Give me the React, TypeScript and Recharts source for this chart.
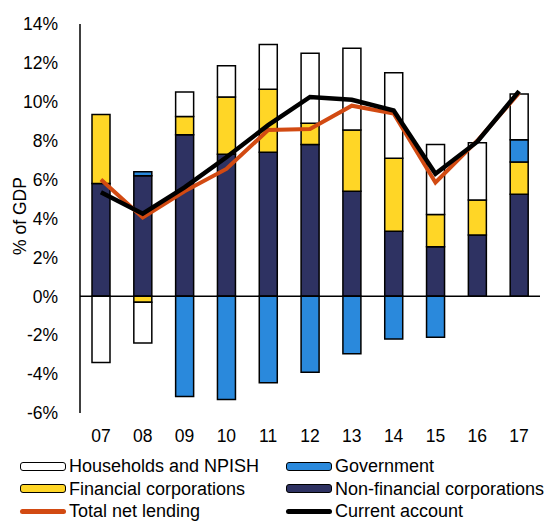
import {
  Bar,
  ComposedChart,
  Label,
  Legend,
  Line,
  ReferenceLine,
  XAxis,
  YAxis,
} from 'recharts'

const years = ['07', '08', '09', '10', '11', '12', '13', '14', '15', '16', '17']
const nonFinancial = [5.8, 6.2, 8.3, 7.3, 7.4, 7.8, 5.4, 3.35, 2.55, 3.15, 5.25]
const financial = [3.55, -0.3, 0.95, 2.95, 3.25, 1.1, 3.15, 3.75, 1.65, 1.8, 1.65]
const government = [0, 0.2, -5.15, -5.3, -4.45, -3.9, -2.95, -2.2, -2.1, 0, 1.15]
const households = [-3.4, -2.1, 1.25, 1.6, 2.3, 3.6, 4.2, 4.4, 3.6, 2.95, 2.35]
const totalNetLending = [6.0, 4.05, 5.4, 6.55, 8.55, 8.6, 9.8, 9.4, 5.85, 8.0, 10.45]
const currentAccount = [5.35, 4.25, 5.6, 7.15, 8.8, 10.25, 10.1, 9.55, 6.3, 7.95, 10.55]
const yTicks = [-6, -4, -2, 0, 2, 4, 6, 8, 10, 12, 14]

const data = years.map((year, i) => ({
  year,
  nonFinancial: nonFinancial[i],
  financial: financial[i],
  government: government[i],
  households: households[i],
  totalNetLending: totalNetLending[i],
  currentAccount: currentAccount[i],
}))

const font = '"Liberation Sans", Arial, sans-serif'

const legendItems = [
  { name: 'Households and NPISH', color: '#ffffff', kind: 'box' },
  { name: 'Government', color: '#2a89dc', kind: 'box' },
  { name: 'Financial corporations', color: '#ffd626', kind: 'box' },
  { name: 'Non-financial corporations', color: '#2e3262', kind: 'box' },
  { name: 'Total net lending', color: '#d24a12', kind: 'line' },
  { name: 'Current account', color: '#000000', kind: 'line' },
]

function ChartLegend() {
  return (
    <div
      style={{
        display: 'grid',
        gridTemplateColumns: '266px 263px',
        fontFamily: font,
        fontSize: 18,
        color: '#000',
        lineHeight: '22.5px',
        whiteSpace: 'nowrap',
      }}
    >
      {legendItems.map((item) => (
        <div key={item.name} style={{ display: 'flex', alignItems: 'center', height: 22.5 }}>
          {item.kind === 'box' ? (
            <span
              style={{
                display: 'inline-block',
                boxSizing: 'border-box',
                width: 46,
                height: 9,
                background: item.color,
                border: '1.5px solid #000',
                borderRadius: 3,
                marginRight: 3,
              }}
            />
          ) : (
            <span
              style={{
                display: 'inline-block',
                width: 46,
                height: 4.5,
                background: item.color,
                borderRadius: 2.5,
                marginRight: 3,
              }}
            />
          )}
          <span>{item.name}</span>
        </div>
      ))}
    </div>
  )
}

export default function App() {
  return (
    <div style={{ position: 'absolute', left: 0, top: 0, background: '#fff' }}>
      <ComposedChart
        width={549}
        height={521}
        data={data}
        stackOffset='sign'
        barSize={18}
        margin={{ top: 24, right: 9, bottom: 0, left: 10 }}
      >
        <XAxis
          dataKey='year'
          axisLine={false}
          tickLine={false}
          height={30}
          tick={{ fill: '#000', fontSize: 17.5, fontFamily: font }}
          tickMargin={11}
        />
        <YAxis
          width={70}
          domain={[-6, 14]}
          ticks={yTicks}
          interval={0}
          allowDataOverflow
          tickFormatter={(v) => `${v}%`}
          axisLine={{ stroke: '#000', strokeWidth: 1.5 }}
          tickLine={false}
          tick={{ fill: '#000', fontSize: 17.5, fontFamily: font }}
          tickMargin={16}
        >
          <Label
            content={() => (
              <text
                x={20}
                y={216}
                transform='rotate(-90 20 216)'
                textAnchor='middle'
                dominantBaseline='central'
                style={{ fill: '#000', fontSize: 17.5, fontFamily: font }}
              >
                % of GDP
              </text>
            )}
          />
        </YAxis>
        <Legend
          verticalAlign='bottom'
          wrapperStyle={{ left: 20, top: 455, width: 529 }}
          content={() => <ChartLegend />}
          height={78}
        />
        <Bar dataKey='nonFinancial' name='Non-financial corporations' stackId='a' fill='#2e3262' stroke='#000' strokeWidth={1.5} isAnimationActive={false} />
        <Bar dataKey='financial' name='Financial corporations' stackId='a' fill='#ffd626' stroke='#000' strokeWidth={1.5} isAnimationActive={false} />
        <Bar dataKey='government' name='Government' stackId='a' fill='#2a89dc' stroke='#000' strokeWidth={1.5} isAnimationActive={false} />
        <Bar dataKey='households' name='Households and NPISH' stackId='a' fill='#ffffff' stroke='#000' strokeWidth={1.5} isAnimationActive={false} />
        <ReferenceLine y={0} stroke='#000' strokeWidth={1.5} />
        <Line dataKey='totalNetLending' name='Total net lending' stroke='#d24a12' strokeWidth={4} dot={false} isAnimationActive={false} />
        <Line dataKey='currentAccount' name='Current account' stroke='#000' strokeWidth={4.5} dot={false} isAnimationActive={false} />
      </ComposedChart>
    </div>
  )
}
